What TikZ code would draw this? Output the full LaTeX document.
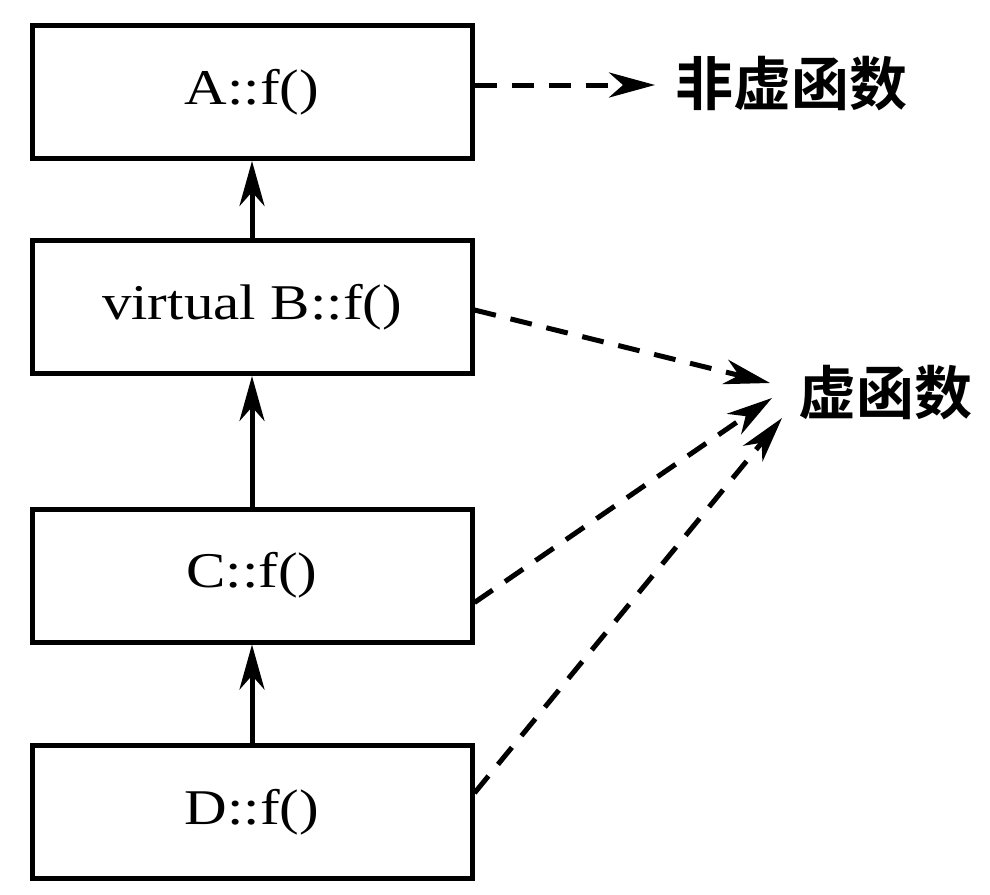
\documentclass[tikz,border=0pt]{standalone}
\usepackage{fontspec}
\setmainfont{Liberation Serif}[FakeStretch=1.18]
\newfontfamily\cjk{Noto Sans CJK SC Bold}
\usetikzlibrary{arrows.meta,calc}
\begin{document}
\begin{tikzpicture}[x=1pt,y=-1pt,
  box/.style={draw,line width=5pt,minimum width=440pt,minimum height=133pt,inner sep=0pt,font=\fontsize{50}{56}\selectfont},
  inh/.style={line width=5pt,-{Stealth[length=45pt,width=25pt,inset=14pt]}},
  virt/.style={line width=5pt,dash pattern=on 22pt off 15pt,-{Stealth[length=46pt,width=25pt,inset=14pt]}},
  lab/.style={font=\cjk\fontsize{58}{60}\selectfont,inner sep=0pt}]
\useasboundingbox (0,0) rectangle (990,894);
\node[box] (A) at (252,92) {A::f()};
\node[box] (B) at (252,307) {virtual B::f()};
\node[box] (C) at (252,575.5) {C::f()};
\node[box] (D) at (252,812) {D::f()};
\draw[inh] (B.north) -- (A.south);
\draw[inh] (C.north) -- (B.south);
\draw[inh] (D.north) -- (C.south);
\node[lab] (nv) at (791,84) {非虚函数};
\node[lab] (vf) at (885,393) {虚函数};
\coordinate (ta) at (655,85);
\coordinate (tb) at (770,383);
\coordinate (tc) at (772,398);
\coordinate (td) at (782,418);
\draw[virt] ($(A.east)+(0,-7)$) -- (ta);
\draw[virt] ($(B.east)+(0,3)$) -- (tb);
\draw[virt] ($(C.east)+(0,27)$) -- (tc);
\draw[virt] ($(D.east)+(0,-19)$) -- (td);
\end{tikzpicture}
\end{document}
